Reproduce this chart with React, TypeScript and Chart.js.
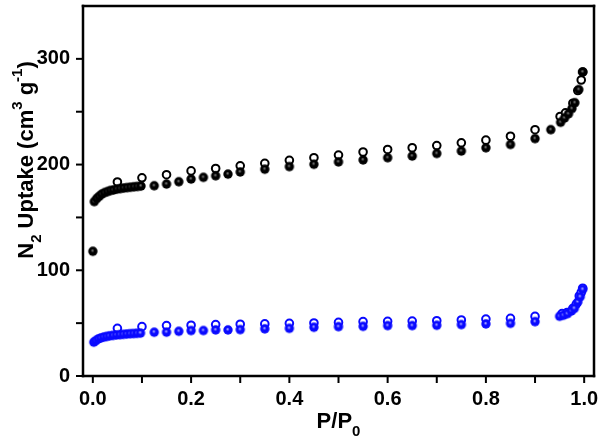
import React, { useEffect, useRef } from "react";
import { Chart, registerables } from "chart.js";

Chart.register(...registerables);

// ---------- data ----------
const xTickValues = [0, 0.1, 0.2, 0.3, 0.4, 0.5, 0.6, 0.7, 0.8, 0.9, 1.0];
const xTickLabels = ["0.0", "", "0.2", "", "0.4", "", "0.6", "", "0.8", "", "1.0"];
const yTickValues = [0, 50, 100, 150, 200, 250, 300];
const yTickLabels = ["0", "", "100", "", "200", "", "300"];

const blackAdsX = [0.000, 0.003, 0.008, 0.013, 0.018, 0.024, 0.030, 0.036, 0.042, 0.049, 0.056, 0.063, 0.070, 0.077, 0.084, 0.091, 0.098, 0.125, 0.150, 0.175, 0.200, 0.225, 0.250, 0.275, 0.300, 0.350, 0.400, 0.450, 0.500, 0.550, 0.600, 0.650, 0.700, 0.750, 0.800, 0.850, 0.900, 0.932, 0.952, 0.960, 0.968, 0.975, 0.981, 0.989, 0.997];
const blackAdsY = [118, 165, 168, 170, 172, 173.5, 174.5, 175.5, 176, 176.8, 177.3, 177.8, 178.2, 178.6, 179, 179.3, 179.7, 180, 181.6, 183.8, 186.3, 187.9, 189.4, 191, 193, 195.6, 198.1, 200.3, 202.5, 204.4, 206.5, 208.1, 210.5, 212.8, 215.9, 219, 224.6, 233, 240, 244, 248, 253, 258.5, 271, 287.6];

const blackDesX = [0.050, 0.100, 0.150, 0.200, 0.250, 0.300, 0.350, 0.400, 0.450, 0.500, 0.550, 0.600, 0.650, 0.700, 0.750, 0.800, 0.850, 0.900, 0.951, 0.962, 0.977, 0.987, 0.994, 0.997];
const blackDesY = [183.5, 187.5, 190.4, 194, 196.3, 198.8, 201.2, 204, 206.5, 209, 211.9, 214.3, 215.9, 218, 220.6, 223.1, 226.8, 233, 245.5, 249, 258, 270, 280, 287.6];

const blueAdsX = [0.002, 0.006, 0.011, 0.016, 0.022, 0.028, 0.034, 0.041, 0.048, 0.055, 0.062, 0.069, 0.076, 0.083, 0.090, 0.097, 0.125, 0.150, 0.175, 0.200, 0.225, 0.250, 0.275, 0.300, 0.350, 0.400, 0.450, 0.500, 0.550, 0.600, 0.650, 0.700, 0.750, 0.800, 0.850, 0.900, 0.950, 0.958, 0.966, 0.974, 0.980, 0.987, 0.992, 0.997];
const blueAdsY = [32, 33.5, 35, 36, 36.8, 37.4, 38, 38.4, 38.8, 39.1, 39.4, 39.7, 40, 40.2, 40.4, 40.6, 41.4, 41.5, 42.3, 43, 43, 43.6, 43.6, 43.9, 44.6, 45.1, 46.1, 46.7, 47, 47.7, 47.7, 48, 48.6, 49.3, 49.8, 51.4, 56.5, 57.5, 59, 61.5, 64, 70, 75, 82];

const blueDesX = [0.050, 0.100, 0.150, 0.200, 0.250, 0.300, 0.350, 0.400, 0.450, 0.500, 0.550, 0.600, 0.650, 0.700, 0.750, 0.800, 0.850, 0.900, 0.955, 0.965, 0.977, 0.984, 0.990, 0.994, 0.997];
const blueDesY = [45.1, 46.7, 47.7, 48, 48.6, 49, 49.3, 49.8, 50.2, 50.7, 51.4, 51.7, 52, 52.3, 53, 53.9, 54.5, 56.4, 59, 60, 64, 68, 75.7, 79, 83];

const BLACK = "#000000";
const BLUE = "#0a0aff";
const FONT = '"Liberation Sans", Arial, sans-serif';
const TICK_LEN = 7;

type Piece = { t: string; k: "n" | "sub" | "sup" };
const yTitle: Piece[] = [
  { t: "N", k: "n" },
  { t: "2", k: "sub" },
  { t: " Uptake (cm", k: "n" },
  { t: "3", k: "sup" },
  { t: " g", k: "n" },
  { t: "-1", k: "sup" },
  { t: ")", k: "n" },
];
const xTitle: Piece[] = [
  { t: "P/P", k: "n" },
  { t: "0", k: "sub" },
];

function toPts(xs: number[], ys: number[]) {
  return xs.map((x, i) => ({ x, y: ys[i] }));
}

function makeBall(color: string, hi: string, r: number) {
  const c = document.createElement("canvas");
  const s = Math.ceil(r * 2 + 2);
  c.width = s;
  c.height = s;
  const g = c.getContext("2d")!;
  const cx = s / 2;
  const grad = g.createRadialGradient(cx - r * 0.1, cx - r * 0.2, 0, cx, cx, r);
  grad.addColorStop(0, hi);
  grad.addColorStop(0.4, color);
  grad.addColorStop(1, color);
  g.beginPath();
  g.arc(cx, cx, r, 0, Math.PI * 2);
  g.fillStyle = grad;
  g.fill();
  return c;
}

function drawRich(ctx: CanvasRenderingContext2D, pieces: Piece[]) {
  const main = `bold 22px ${FONT}`;
  const small = `bold 15px ${FONT}`;
  let total = 0;
  const ws = pieces.map((p) => {
    ctx.font = p.k === "n" ? main : small;
    const w = ctx.measureText(p.t).width;
    total += w;
    return w;
  });
  let x = -total / 2;
  ctx.textBaseline = "alphabetic";
  ctx.textAlign = "left";
  ctx.fillStyle = "#000";
  pieces.forEach((p, i) => {
    ctx.font = p.k === "n" ? main : small;
    const dy = p.k === "sub" ? 8 : p.k === "sup" ? -11 : 0;
    ctx.fillText(p.t, x, dy);
    x += ws[i];
  });
}

const framePlugin = {
  id: "frameAndTitles",
  afterDraw(chart: any) {
    const { ctx, chartArea } = chart;
    const { left, right, top, bottom } = chartArea;
    const lw = 2.5;
    const h = lw / 2;
    ctx.save();
    ctx.fillStyle = "#000";
    ctx.fillRect(left - h, top - h, right - left + lw, lw);
    ctx.fillRect(left - h, bottom - h, right - left + lw, lw);
    ctx.fillRect(left - h, top - h, lw, bottom - top + lw);
    ctx.fillRect(right - h, top - h, lw, bottom - top + lw);
    const xs = chart.scales.x;
    const ys = chart.scales.y;
    xTickValues.forEach((v) => {
      const px = xs.getPixelForValue(v);
      ctx.fillRect(px - 1, bottom, 2, TICK_LEN);
    });
    yTickValues.forEach((v) => {
      const py = ys.getPixelForValue(v);
      ctx.fillRect(left - TICK_LEN, py - 1, TICK_LEN, 2);
    });
    ctx.restore();

    ctx.save();
    ctx.translate(33, 160);
    ctx.rotate(-Math.PI / 2);
    drawRich(ctx, yTitle);
    ctx.restore();

    ctx.save();
    ctx.translate((left + right) / 2, 428);
    drawRich(ctx, xTitle);
    ctx.restore();
  },
};

export default function App() {
  const ref = useRef<HTMLCanvasElement | null>(null);

  useEffect(() => {
    if (!ref.current) return;
    const blackBall = makeBall(BLACK, "#8c8c8c", 4.7);
    const blueBall = makeBall(BLUE, "#c8c8ff", 4.7);

    const chart = new Chart(ref.current, {
      type: "scatter",
      data: {
        datasets: [
          {
            label: "black adsorption",
            data: toPts(blackAdsX, blackAdsY),
            pointStyle: blackBall as any,
            pointRadius: 4.7,
            borderWidth: 0,
          },
          {
            label: "blue adsorption",
            data: toPts(blueAdsX, blueAdsY),
            pointStyle: blueBall as any,
            pointRadius: 4.7,
            borderWidth: 0,
          },
          {
            label: "black desorption",
            data: toPts(blackDesX, blackDesY),
            pointStyle: "circle",
            pointRadius: 3.8,
            backgroundColor: "#ffffff",
            borderColor: BLACK,
            borderWidth: 2,
          },
          {
            label: "blue desorption",
            data: toPts(blueDesX, blueDesY),
            pointStyle: "circle",
            pointRadius: 3.8,
            backgroundColor: "#ffffff",
            borderColor: BLUE,
            borderWidth: 2,
          },
        ],
      },
      options: {
        responsive: false,
        animation: false,
        layout: { padding: { top: 1, right: 5, left: 0, bottom: 0 } },
        plugins: {
          legend: { display: false },
          tooltip: { enabled: false },
          title: { display: false },
        },
        scales: {
          x: {
            type: "linear",
            min: -0.02,
            max: 1.02,
            afterFit: (s: any) => {
              s.height = 61;
              s.paddingLeft = 0;
              s.paddingRight = 0;
            },
            afterBuildTicks: (s: any) => {
              s.ticks = xTickValues.map((v) => ({ value: v }));
            },
            border: { display: false },
            grid: { display: false, drawTicks: false },
            ticks: {
              padding: TICK_LEN + 4,
              color: "#000",
              maxRotation: 0,
              autoSkip: false,
              font: { family: FONT, size: 20, weight: "bold" },
              callback: (v: any) => {
                const i = xTickValues.findIndex((t) => Math.abs(t - Number(v)) < 1e-6);
                return i >= 0 ? xTickLabels[i] : "";
              },
            },
          },
          y: {
            type: "linear",
            min: 0,
            max: 350,
            afterFit: (s: any) => {
              s.width = 83;
              s.paddingTop = 0;
              s.paddingBottom = 0;
            },
            afterBuildTicks: (s: any) => {
              s.ticks = yTickValues.map((v) => ({ value: v }));
            },
            border: { display: false },
            grid: { display: false, drawTicks: false },
            ticks: {
              padding: TICK_LEN + 6,
              color: "#000",
              autoSkip: false,
              font: { family: FONT, size: 20, weight: "bold" },
              callback: (v: any) => {
                const i = yTickValues.findIndex((t) => Math.abs(t - Number(v)) < 1e-6);
                return i >= 0 ? yTickLabels[i] : "";
              },
            },
          },
        },
      },
      plugins: [framePlugin],
    });
    return () => chart.destroy();
  }, []);

  return (
    <div style={{ position: "fixed", left: 0, top: 0, width: 600, height: 437, background: "#fff" }}>
      <canvas ref={ref} width={600} height={437} style={{ display: "block" }} />
    </div>
  );
}
